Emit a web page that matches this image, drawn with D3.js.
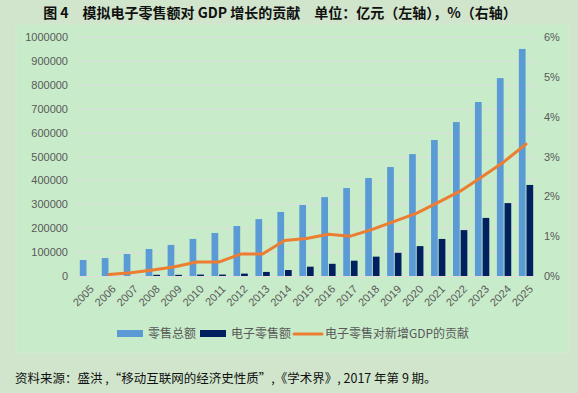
<!DOCTYPE html>
<html>
<head>
<meta charset="utf-8">
<script src="https://cdn.jsdelivr.net/npm/d3@7"></script>
<style>
  body { margin: 0; background: #d0e5cc; }
  svg { display: block; }
</style>
</head>
<body>
<div id="chart"></div>
<script>
const years = ["2005","2006","2007","2008","2009","2010","2011","2012","2013","2014","2015",
  "2016","2017","2018","2019","2020","2021","2022","2023","2024","2025"];
// 零售总额, 亿元
const retail = [67000, 75000, 92000, 113000, 130000, 155000, 180000, 209000, 238000, 268000, 297000,
  330000, 368000, 410000, 456000, 510000, 569000, 644000, 728000, 828000, 950000];
// 电子零售额, 亿元
const eRetail = [0, 0, 0, 5000, 5000, 6000, 6000, 10000, 17000, 25000, 39000,
  51000, 64000, 81000, 97000, 125000, 155000, 192000, 243000, 305000, 381000];
// 电子零售对新增GDP的贡献, %  (starts 2006)
const contrib = [null, 0.04, 0.08, 0.15, 0.23, 0.35, 0.35, 0.55, 0.55, 0.89, 0.94,
  1.05, 1.0, 1.17, 1.37, 1.57, 1.85, 2.13, 2.49, 2.87, 3.31];
const leftTicks = d3.range(0, 1000001, 100000);
const rightTicks = [0, 1, 2, 3, 4, 5, 6];

const W = 578, H = 393;
const svg = d3.select("#chart").append("svg").attr("width", W).attr("height", H);

svg.append("rect").attr("x", 16).attr("y", 24).attr("width", 553).attr("height", 329)
  .attr("fill", "#c8ebca").attr("stroke", "#d6ead4").attr("stroke-width", 1);

svg.append("text").attr("x", 280).attr("y", 18).attr("text-anchor", "middle")
  .attr("font-family", "'Noto Sans CJK SC', sans-serif").attr("font-weight", "bold")
  .attr("font-size", 14).attr("fill", "#111")
  .text("图 4　模拟电子零售额对 GDP 增长的贡献　单位：亿元（左轴），%（右轴）");

const m = {left: 76, right: 537, top: 37, bottom: 276};
const x = d3.scaleBand().domain(years).range([m.left, m.right]);
const y = d3.scaleLinear().domain([0, 1000000]).range([m.bottom, m.top]);
const y2 = d3.scaleLinear().domain([0, 6]).range([m.bottom, m.top]);
const inner = d3.scaleBand().domain(["a", "b"]).range([0, x.bandwidth()]).paddingOuter(0.5).paddingInner(0.12);

// grid
svg.append("g").selectAll("line").data(leftTicks).join("line")
  .attr("x1", m.left).attr("x2", m.right)
  .attr("y1", d => Math.round(y(d)) + 0.5).attr("y2", d => Math.round(y(d)) + 0.5)
  .attr("stroke", "#dcdcdc").attr("stroke-width", 1);

const font = "'Liberation Sans', Arial, sans-serif";

const yl = svg.append("g").attr("transform", `translate(${m.left},0)`)
  .call(d3.axisLeft(y).tickValues(leftTicks).tickFormat(d3.format("d")).tickSize(0).tickPadding(8));
yl.select(".domain").remove();
yl.selectAll("text").attr("font-family", font).attr("font-size", 11).attr("fill", "#595959");

const yr = svg.append("g").attr("transform", `translate(${m.right},0)`)
  .call(d3.axisRight(y2).tickValues(rightTicks).tickFormat(d => d + "%").tickSize(0).tickPadding(7));
yr.select(".domain").remove();
yr.selectAll("text").attr("font-family", font).attr("font-size", 11).attr("fill", "#595959");

const xa = svg.append("g").attr("transform", `translate(0,${m.bottom})`)
  .call(d3.axisBottom(x).tickSize(0).tickPadding(0));
xa.select(".domain").remove();
xa.selectAll("text").attr("font-family", font).attr("font-size", 11).attr("fill", "#595959")
  .attr("text-anchor", "end").attr("dy", "0.35em")
  .attr("transform", "translate(5,11) rotate(-45)");

// bars
svg.append("g").selectAll("rect").data(retail).join("rect")
  .attr("x", (d, i) => x(years[i]) + inner("a"))
  .attr("y", d => y(d)).attr("width", inner.bandwidth())
  .attr("height", d => y(0) - y(d)).attr("fill", "#5b9bd5");
svg.append("g").selectAll("rect").data(eRetail).join("rect")
  .attr("x", (d, i) => x(years[i]) + inner("b"))
  .attr("y", d => y(d)).attr("width", inner.bandwidth())
  .attr("height", d => y(0) - y(d)).attr("fill", "#002060");

// line
const line = d3.line()
  .defined(d => d != null)
  .x((d, i) => x(years[i]) + x.bandwidth() / 2)
  .y(d => y2(d));
svg.append("path").datum(contrib).attr("d", line)
  .attr("fill", "none").attr("stroke", "#ed7d31").attr("stroke-width", 3)
  .attr("stroke-linejoin", "round").attr("stroke-linecap", "round");

// legend
const lg = svg.append("g").attr("font-family", "'Noto Sans CJK SC', sans-serif")
  .attr("font-size", 12).attr("fill", "#595959");
lg.append("rect").attr("x", 117).attr("y", 330).attr("width", 26).attr("height", 7).attr("fill", "#5b9bd5");
lg.append("text").attr("x", 148).attr("y", 338).text("零售总额");
lg.append("rect").attr("x", 200).attr("y", 330).attr("width", 26).attr("height", 7).attr("fill", "#002060");
lg.append("text").attr("x", 231).attr("y", 338).text("电子零售额");
lg.append("line").attr("x1", 294).attr("x2", 322).attr("y1", 334).attr("y2", 334)
  .attr("stroke", "#ed7d31").attr("stroke-width", 3).attr("stroke-linecap", "round");
lg.append("text").attr("x", 325).attr("y", 338).text("电子零售对新增GDP的贡献");

svg.append("text").attr("x", 15).attr("y", 383)
  .attr("font-family", "'Noto Sans CJK SC', sans-serif").attr("font-size", 12.5).attr("fill", "#111")
  .text("资料来源：盛洪 ,“移动互联网的经济史性质”,《学术界》, 2017 年第 9 期。");
</script>
</body>
</html>
